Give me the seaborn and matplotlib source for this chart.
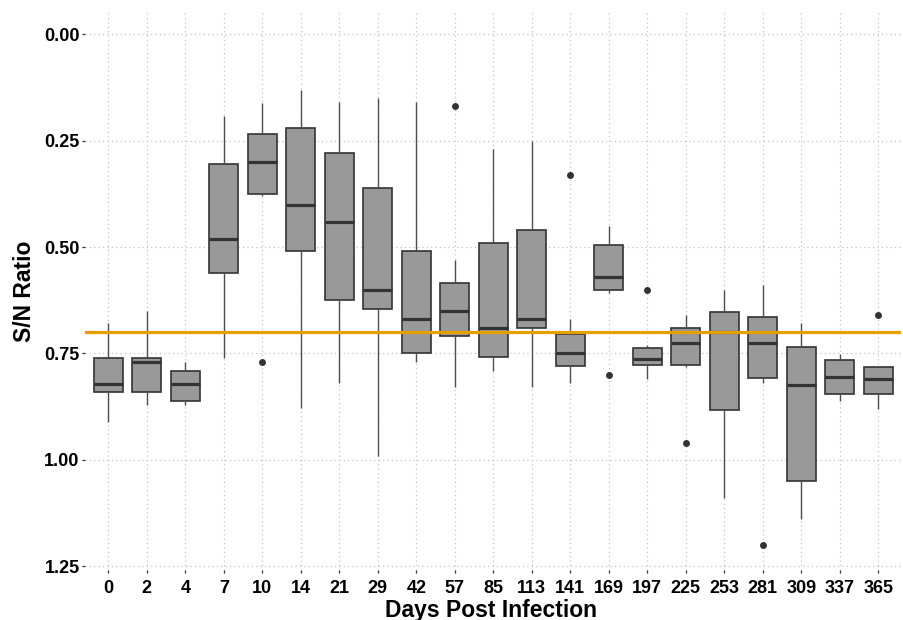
import matplotlib
matplotlib.use("Agg")
import matplotlib.pyplot as plt
import pandas as pd
import seaborn as sns

# Sampling days and five-number summaries of the S/N ratio per day
days = [0, 2, 4, 7, 10, 14, 21, 29, 42, 57, 85, 113, 141, 169, 197, 225, 253, 281, 309, 337, 365]
sn_min = [0.679, 0.650, 0.770, 0.191, 0.161, 0.131, 0.160, 0.150, 0.160, 0.531, 0.270,
          0.250, 0.670, 0.450, 0.731, 0.660, 0.600, 0.589, 0.679, 0.751, 0.781]
sn_q1 = [0.761, 0.761, 0.790, 0.305, 0.235, 0.221, 0.280, 0.360, 0.510, 0.585, 0.491,
         0.460, 0.705, 0.495, 0.738, 0.690, 0.653, 0.665, 0.735, 0.765, 0.782]
sn_median = [0.821, 0.770, 0.821, 0.480, 0.300, 0.400, 0.440, 0.600, 0.670, 0.650, 0.690,
             0.670, 0.750, 0.570, 0.764, 0.725, 0.700, 0.725, 0.824, 0.805, 0.810]
sn_q3 = [0.841, 0.841, 0.861, 0.560, 0.376, 0.510, 0.624, 0.645, 0.750, 0.710, 0.759,
         0.690, 0.780, 0.601, 0.777, 0.776, 0.882, 0.807, 1.049, 0.846, 0.846]
sn_max = [0.911, 0.871, 0.870, 0.760, 0.381, 0.879, 0.820, 0.990, 0.769, 0.829, 0.790,
          0.829, 0.820, 0.609, 0.809, 0.781, 1.090, 0.820, 1.139, 0.861, 0.880]

# Outlying observations
outlier_days = [10, 57, 141, 169, 197, 225, 281, 365]
outlier_values = [0.770, 0.169, 0.330, 0.800, 0.600, 0.960, 1.200, 0.660]

# Positivity cut-off
cutoff = 0.70
y_ticks = [0.00, 0.25, 0.50, 0.75, 1.00, 1.25]

order = [str(d) for d in days]
rows = []
for d, a, b, c, e, f in zip(days, sn_min, sn_q1, sn_median, sn_q3, sn_max):
    for v in (a, b, c, e, f):
        rows.append({"day": str(d), "sn": v})
df = pd.DataFrame(rows)
out_df = pd.DataFrame({"day": [str(d) for d in outlier_days], "sn": outlier_values})

sns.set_theme(style="white")
plt.rcParams["font.family"] = ["Liberation Sans", "DejaVu Sans"]

W, H = 904, 620
fig = plt.figure(figsize=(W / 100, H / 100), dpi=100)
left, right, top, bottom = 85.2, 901.4, 11, 570
ax = fig.add_axes([left / W, 1 - bottom / H, (right - left) / W, (bottom - top) / H])

sns.boxplot(
    data=df, x="day", y="sn", order=order, whis=(0, 100), width=0.75,
    color="#999999", saturation=1, linecolor="#333333", linewidth=1.2,
    fliersize=0, showcaps=False,
    medianprops=dict(color="#333333", linewidth=2.3),
    whiskerprops=dict(color="#4d4d4d", linewidth=1.0),
    boxprops=dict(zorder=2), ax=ax,
)
sns.stripplot(
    data=out_df, x="day", y="sn", order=order, jitter=False,
    color="#333333", size=5, linewidth=0, zorder=4, ax=ax,
)
ax.axhline(cutoff, color="#E69F00", linewidth=2.3, zorder=5)

ax.set_xlim(-0.6, len(days) - 0.4)
ax.set_ylim(1.2587, -0.0547)
ax.set_yticks(y_ticks)
ax.set_yticklabels([f"{t:.2f}" for t in y_ticks])

ax.grid(True, linestyle=(0, (1, 2.5)), color="#c4c4c4", linewidth=0.9)
ax.set_axisbelow(True)
for s in ax.spines.values():
    s.set_visible(False)

ax.tick_params(axis="both", which="major", length=2.3, width=0.9, color="#333333",
               labelsize=13, labelcolor="black")
ax.tick_params(axis="x", pad=5.2, bottom=True)
ax.tick_params(axis="y", pad=1.8, left=True)
for lab in ax.get_xticklabels() + ax.get_yticklabels():
    lab.set_fontweight("bold")

ax.set_xlabel("Days Post Infection", fontsize=16.5, fontweight="bold", color="black")
ax.xaxis.label.set_va("baseline")
ax.xaxis.set_label_coords(0.4966, (3.3 - (H - bottom)) / (bottom - top))
ax.set_ylabel("S/N Ratio", fontsize=16.5, fontweight="bold", color="black")
ax.yaxis.label.set_va("center")
ax.yaxis.set_label_coords((25 - left) / (right - left), 1 - (291.7 - top) / (bottom - top))

fig.savefig("out.png", dpi=100, facecolor="white")
